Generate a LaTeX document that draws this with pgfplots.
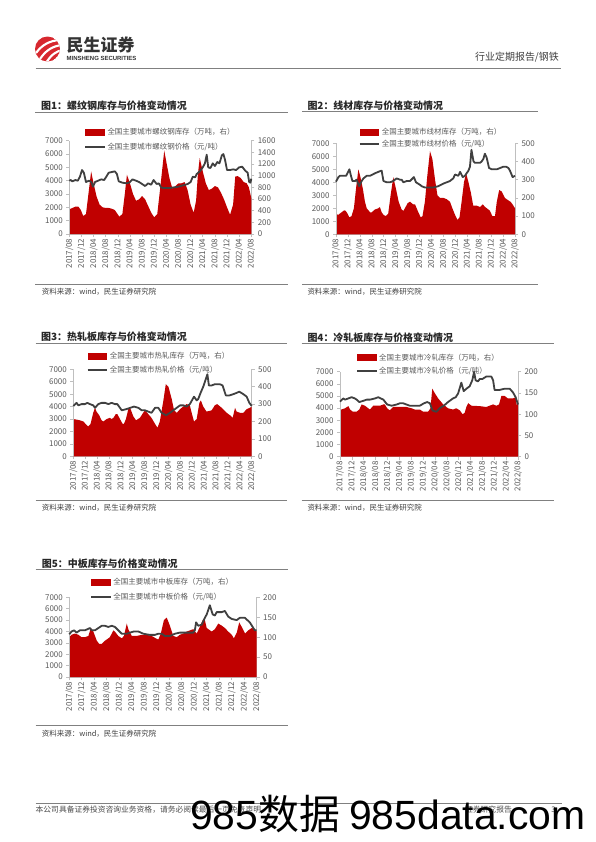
\documentclass[border=0pt]{standalone}
\usepackage{pgfplots}
\pgfplotsset{compat=1.18}
\usepackage{fontspec}
\setmainfont{Noto Sans CJK SC}
\newfontfamily\lat{Liberation Sans}
\definecolor{cred}{HTML}{C00000}
\definecolor{cline}{HTML}{404040}
\definecolor{caxis}{HTML}{BFBFBF}
\definecolor{ctext}{HTML}{595959}
\definecolor{ctitle}{HTML}{262626}
\definecolor{crule}{HTML}{808080}
\definecolor{clogo}{HTML}{D7282F}
\newcommand\fs[1]{\fontsize{#1}{#1}\selectfont}
\pgfplotsset{
  base/.style={
    scale only axis, clip=false,
    xmin=0, xmax=60, ymin=0,
    tick label style={font=\fs{8}, text=ctext},
    /pgf/number format/assume math mode=true,
    /pgf/number format/1000 sep={},
    axis line style={caxis, line width=0.6bp},
    tick style={caxis, line width=0.6bp},
    major tick length=3bp,
    tick align=outside,
  },
  areaaxis/.style={base,
    axis y line*=right, axis x line*=bottom,
    xtick={0,4,...,60},
    xticklabels={2017/08,2017/12,2018/04,2018/08,2018/12,2019/04,2019/08,2019/12,2020/04,2020/08,2020/12,2021/04,2021/08,2021/12,2022/04,2022/08},
    xticklabel style={rotate=90, anchor=east, inner sep=1.5bp},
  },
  lineaxis/.style={base,
    axis y line*=left, axis x line=none, xtick=\empty,
    ymax=7000, ytick={0,1000,...,7000},
    legend cell align=left,
    legend style={draw=none, fill=none, anchor=north west, font=\fs{7.5}, text=ctext,
      inner sep=0pt, nodes={inner xsep=1.8bp, inner ysep=0.8bp, text=ctext}},
  },
  areaimg/.style={fill=cred, draw=none, legend image code/.code={\fill[cred] (0bp,-3.5bp) rectangle (19.5bp,3.5bp);}},
  priceline/.style={cline, line width=1.8bp, line join=round, legend image code/.code={\draw[cline, line width=1.8bp] (0bp,0bp) -- (19.5bp,0bp);}},
}
\begin{document}
\begin{tikzpicture}[x=1bp,y=1bp]
\path[use as bounding box, fill=white] (0,0) rectangle (596,-842);
% ---------- header ----------
\begin{scope}
\clip (47.5,-49) circle (12.5);
\fill[clogo] (47.5,-49) circle (12.5);
\draw[white, line width=2.1bp] (36,-53) .. controls (42,-45) and (49,-41) .. (59,-40);
\draw[white, line width=2.1bp] (40,-59) .. controls (46,-50) and (53,-46) .. (62,-45);
\draw[white, line width=2.1bp] (46,-63) .. controls (51,-55) and (56,-51) .. (63,-50);
\end{scope}
\node[anchor=west, inner sep=0pt, font=\fs{17}\bfseries, text=black!80] at (66.5,-45) {民生证券};
\node[anchor=west, inner sep=0pt, font=\lat\fs{6}\bfseries, text=black!80] at (66.5,-58.3) {MINSHENG SECURITIES};
\node[anchor=east, inner sep=0pt, font=\fs{10}, text=black!75] at (559,-57.3) {行业定期报告/钢铁};
\draw[crule, line width=0.8bp] (35.5,-68.3) -- (561,-68.3);
% ---------- titles, rules, sources ----------
\tikzset{ttl/.style={anchor=west, inner sep=0pt, font=\fs{10}\bfseries, text=ctitle},
         src/.style={anchor=west, inner sep=0pt, font=\fs{7.5}, text=black!75}}
\node[ttl] at (41,-106) {图1：螺纹钢库存与价格变动情况};
\draw[crule, line width=0.8bp] (35,-112.7) -- (288,-112.7);
\draw[crule, line width=0.8bp] (35,-284.3) -- (288,-284.3);
\node[src] at (41.7,-291.7) {资料来源：wind，民生证券研究院};
\node[ttl] at (307.3,-105.3) {图2：线材库存与价格变动情况};
\draw[crule, line width=0.8bp] (302,-111.7) -- (538.3,-111.7);
\draw[crule, line width=0.8bp] (302,-284.3) -- (538.3,-284.3);
\node[src] at (307.3,-291.7) {资料来源：wind，民生证券研究院};
\node[ttl] at (41,-336.7) {图3：热轧板库存与价格变动情况};
\draw[crule, line width=0.8bp] (35.7,-343.3) -- (287.3,-343.3);
\draw[crule, line width=0.8bp] (35.7,-500) -- (287.3,-500);
\node[src] at (41.7,-507.3) {资料来源：wind，民生证券研究院};
\node[ttl] at (307.3,-337.3) {图4：冷轧板库存与价格变动情况};
\draw[crule, line width=0.8bp] (301.7,-343.3) -- (554,-343.3);
\draw[crule, line width=0.8bp] (301.7,-500) -- (554,-500);
\node[src] at (307.3,-507.7) {资料来源：wind，民生证券研究院};
\node[ttl] at (41.7,-563.3) {图5：中板库存与价格变动情况};
\draw[crule, line width=0.8bp] (35.7,-569.3) -- (288.3,-569.3);
\draw[crule, line width=0.8bp] (35.7,-725.7) -- (288.3,-725.7);
\node[src] at (41.7,-733.3) {资料来源：wind，民生证券研究院};
% ---------- footer ----------
\draw[crule, line width=0.8bp] (35.5,-803.6) -- (562,-803.6);
\node[anchor=west, inner sep=0pt, font=\fs{7.8}, text=black!70] at (35.5,-810) {本公司具备证券投资咨询业务资格，请务必阅读最后一页免责声明};
\node[anchor=east, inner sep=0pt, font=\fs{7.8}, text=black!70] at (512,-810) {证券研究报告};
\node[anchor=east, inner sep=0pt, font=\fs{7.8}, text=black!70] at (556,-810) {3};
% ================= Chart 1 =================
\begin{axis}[areaaxis, at={(69.3bp,-234bp)}, anchor=south west, width=182bp, height=93.3bp,
  ymax=1600, ytick={0,200,...,1600}]
\addplot[fill=cred, draw=none] coordinates {(0,423) (1,446) (2,469) (3,469) (3.8,411) (4.6,309) (5.5,343) (6.2,640) (7.2,1074) (8,869) (9,640) (10,503) (11,457) (12,446) (13,446) (14,434) (15,411) (16.5,297) (17.5,343) (18.3,686) (19,1017) (20,869) (21,686) (22,571) (23,594) (24,651) (25,594) (26,480) (27,366) (28,286) (29,343) (30,800) (31.3,1429) (32,1234) (33,960) (34,777) (35,823) (36,869) (37,869) (38,891) (39,754) (40,503) (41,366) (41.8,571) (42.4,1029) (43,1303) (44,1074) (45,869) (46,754) (47,777) (48,823) (49,800) (50,709) (51,594) (52,457) (53,331) (54,503) (54.7,983) (55.5,994) (56.5,960) (57.5,891) (58.5,869) (59.2,800) (60,617)} \closedcycle;
\end{axis}
\begin{axis}[lineaxis, at={(69.3bp,-234bp)}, anchor=south west, width=182bp, height=93.3bp,
  legend style={at={(0.0819,1.1415)}, row sep=4.9bp}]
\addlegendimage{areaimg}
\addlegendentry{全国主要城市螺纹钢库存（万吨，右）}
\addplot[priceline] coordinates {(0,4000) (0.5,4050) (1,3950) (2,4050) (2.8,4000) (3.5,4300) (4.2,4800) (4.8,4600) (5.5,3900) (6.5,4000) (7.3,3900) (7.8,3550) (8.5,3900) (9.5,4000) (10.5,4100) (11.5,4050) (12.2,4300) (13,4600) (14,4650) (15,4700) (15.7,4500) (16.3,3950) (17.5,3850) (19,3800) (20,3900) (20.8,4100) (22,4000) (23,3900) (24,3750) (25,3600) (26,3800) (27,3700) (27.8,4050) (28.8,3750) (29.5,3800) (30.3,3500) (31,3450) (33,3450) (34.5,3500) (36,3550) (37.5,3650) (39,3750) (40,3900) (40.7,4300) (41.5,4250) (42,4500) (43,4700) (44,5000) (44.7,5300) (45.3,5950) (45.8,5000) (46.5,4950) (47.3,5300) (48,5100) (48.8,5400) (49.5,5300) (50.3,5900) (50.8,6000) (51.3,5600) (52,4800) (53,4800) (54,4850) (55,4800) (56,5000) (57,5050) (58,4750) (58.8,4600) (59.3,3900) (59.7,3850) (60,4150)};
\addlegendentry{全国主要城市螺纹钢价格（元/吨）}
\end{axis}
% ================= Chart 2 =================
\begin{axis}[areaaxis, at={(336bp,-234.3bp)}, anchor=south west, width=179bp, height=91bp,
  ymax=500, ytick={0,100,...,500}]
\addplot[fill=cred, draw=none] coordinates {(0,111) (0.8,107) (1.3,114) (2.5,129) (3,132) (3.6,121) (4.5,93) (5.2,100) (6,143) (6.7,250) (7.5,357) (8.1,321) (9,250) (9.7,179) (10.3,143) (11.4,121) (12,121) (13,136) (14.2,143) (14.7,150) (15.3,121) (15.9,107) (16.7,100) (17.5,114) (18.3,214) (19.2,314) (20.1,250) (21,179) (22,136) (22.6,129) (23.1,143) (24,171) (24.8,179) (25.9,164) (26.5,164) (27.6,121) (28.4,93) (29,100) (29.8,179) (30.6,321) (31.5,457) (32.3,414) (33.2,300) (34,214) (34.9,200) (36,200) (37.1,193) (38.2,179) (39,143) (39.9,107) (40.7,79) (41.4,93) (42.1,179) (42.9,286) (43.6,336) (44.4,286) (45.2,229) (46,157) (47.2,157) (48.3,150) (49.2,164) (50,150) (51.1,136) (51.6,129) (52.4,100) (53.3,100) (53.9,179) (54.7,243) (55.5,236) (56.6,200) (57.8,186) (58.5,179) (59.2,164) (60,143)} \closedcycle;
\end{axis}
\begin{axis}[lineaxis, at={(336bp,-234.3bp)}, anchor=south west, width=179bp, height=91bp,
  legend style={at={(0.1257,1.177)}, row sep=2.5bp}]
\addlegendimage{areaimg}
\addlegendentry{全国主要城市线材库存（万吨，右）}
\addplot[priceline] coordinates {(0,4050) (0.8,4400) (1.3,4500) (2.5,4500) (3.4,4500) (4.5,5000) (4.9,4600) (5.5,4100) (6.4,4100) (6.9,4200) (7.8,3700) (8.6,4100) (9.2,4300) (10.3,4500) (11.4,4500) (13.1,4700) (14.7,4850) (15.3,4900) (15.9,4100) (17,4000) (18.1,4000) (19.2,4100) (20.3,4300) (21.5,4200) (22,4200) (22.6,4000) (23.7,4100) (24.8,4100) (26.1,4400) (26.8,4000) (28.2,3800) (28.7,3700) (29.8,3600) (31.5,3600) (32.6,3600) (34.3,3700) (36,3900) (38.2,4100) (39.3,4300) (39.9,4600) (41,4500) (41.6,4800) (42.5,4400) (43.2,4500) (44.4,4900) (44.9,5200) (45.4,6500) (46.1,5600) (46.6,5500) (48.3,5500) (48.8,5600) (49.4,5800) (49.9,6200) (50.5,5900) (51.3,5100) (52.2,5000) (53.9,5000) (55,5100) (56.1,5200) (57,5200) (57.8,5100) (58.3,4900) (59.2,4400) (60,4500)};
\addlegendentry{全国主要城市线材价格（元/吨）}
\end{axis}
% ================= Chart 3 =================
\begin{axis}[areaaxis, at={(73.3bp,-456.3bp)}, anchor=south west, width=178.4bp, height=87bp,
  ymax=500, ytick={0,100,...,500}]
\addplot[fill=cred, draw=none] coordinates {(0,214) (1.1,211) (2.2,207) (3.4,200) (4.5,179) (5,171) (5.8,186) (6.7,250) (7.3,279) (7.8,257) (8.7,236) (9.5,207) (10.1,200) (11.2,214) (12.3,221) (12.9,214) (13.5,221) (14.3,243) (14.8,243) (15.7,214) (16.6,186) (17,186) (17.7,214) (18.5,271) (19.1,279) (20.2,229) (21.1,207) (22.4,221) (23.5,250) (24.1,264) (25.2,243) (26.3,221) (27.5,186) (28.3,164) (29.1,200) (30.3,321) (31.1,414) (32,400) (33.1,329) (33.9,264) (34.8,250) (35.9,271) (37,286) (38.1,300) (39.2,293) (39.8,250) (40.6,200) (41.5,214) (42.4,307) (42.9,321) (43.7,286) (44.8,257) (46.5,264) (47.6,293) (48.4,300) (49.9,279) (51.6,250) (52.7,236) (53.6,221) (54.4,279) (54.9,257) (56.1,250) (57.2,250) (58.3,271) (59.4,279) (60,286)} \closedcycle;
\end{axis}
\begin{axis}[lineaxis, at={(73.3bp,-456.3bp)}, anchor=south west, width=178.4bp, height=87bp,
  legend style={at={(0.074,1.2046)}, row sep=3.9bp}]
\addlegendimage{areaimg}
\addlegendentry{全国主要城市热轧库存（万吨，右）}
\addplot[priceline] coordinates {(0,4050) (1.1,4300) (1.7,4100) (2.8,4200) (3.9,4200) (4.7,4300) (5.6,4200) (6.7,4100) (7.3,3900) (8.4,4200) (9.5,4300) (10.7,4300) (11.8,4200) (12.9,4300) (14,4200) (14.8,4200) (15.7,3900) (16.3,3700) (17.9,3800) (19.1,3900) (20.4,4000) (21.9,3900) (23,3700) (24.1,3700) (25.2,3600) (26.3,3500) (27.5,3900) (28.6,3900) (29.7,3500) (31.2,3300) (32.5,3500) (34.2,3800) (35.9,4100) (37,4100) (38.1,4000) (39.2,4200) (40.6,4800) (41.5,4500) (42,4600) (42.8,5100) (43.7,5600) (45.1,6600) (45.6,5700) (46.5,5700) (47.6,5800) (49.3,5800) (50.2,5700) (51.3,4900) (52.5,4900) (53.8,5000) (54.9,5100) (55.8,5200) (57.2,5000) (58.3,4800) (59.2,4300) (60,4050)};
\addlegendentry{全国主要城市热轧价格（元/吨）}
\end{axis}
% ================= Chart 4 =================
\begin{axis}[areaaxis, at={(340bp,-456.7bp)}, anchor=south west, width=178bp, height=85bp,
  ymax=200, ytick={0,50,...,200}]
\addplot[fill=cred, draw=none] coordinates {(0,110) (1.7,114) (2.8,119) (3.4,111) (4.3,106) (5.6,106) (6.5,111) (7.3,123) (8.4,120) (9.5,114) (10.1,111) (11.2,120) (13.5,120) (14.6,123) (15.1,123) (15.9,114) (16.8,109) (17.9,117) (20.2,117) (22.4,117) (24.1,114) (25.2,111) (26.9,111) (28,106) (29.7,106) (30.5,114) (31.1,160) (32,149) (33.1,137) (34.8,123) (36.4,114) (38.1,111) (39.2,114) (40.4,109) (41.3,100) (42,103) (42.6,117) (43.2,126) (44.3,120) (47.1,119) (49.3,117) (50.4,120) (51.6,123) (52.7,120) (53.6,123) (54.4,143) (55.5,143) (56.6,137) (58.3,137) (59.2,140) (59.6,120) (60,134)} \closedcycle;
\end{axis}
\begin{axis}[lineaxis, at={(340bp,-456.7bp)}, anchor=south west, width=178bp, height=85bp,
  legend style={at={(0.0893,1.2224)}, row sep=3.6bp}]
\addlegendimage{areaimg}
\addlegendentry{全国主要城市冷轧库存（万吨，右）}
\addplot[priceline] coordinates {(0,4530) (1.1,4800) (1.7,4700) (2.8,4800) (3.9,4900) (5,4800) (5.6,4700) (6.5,4500) (7.8,4600) (9,4700) (10.1,4700) (11.8,4800) (12.9,4900) (14.6,4700) (15.9,4300) (17.4,4200) (19.1,4300) (20.2,4400) (21.3,4400) (22.4,4300) (23.5,4200) (25.2,4200) (26.9,4200) (28.3,4400) (29.4,4500) (30.3,4400) (31.2,3800) (32.5,3700) (33.6,4000) (35,4200) (36.4,4500) (38.1,4800) (39,4900) (39.8,5200) (40.9,6100) (41.7,5400) (42.6,5600) (43.7,5800) (44.6,6300) (45.2,7000) (45.7,6300) (46.5,6200) (47.1,6400) (48,6400) (49.3,6600) (51,6600) (51.6,6300) (52.1,5500) (53.8,5500) (55.5,5600) (57.2,5600) (58.3,5300) (59.2,4900) (60,4300)};
\addlegendentry{全国主要城市冷轧价格（元/吨）}
\end{axis}
% ================= Chart 5 =================
\begin{axis}[areaaxis, at={(69.3bp,-677bp)}, anchor=south west, width=187.4bp, height=79.7bp,
  ymax=200, ytick={0,50,...,200}]
\addplot[fill=cred, draw=none] coordinates {(0,100) (0.7,106) (1.8,109) (2.9,106) (3.9,100) (5,100) (6.1,103) (6.9,123) (7.7,114) (8.8,91) (9.6,83) (10.4,83) (11.4,91) (12.5,97) (13,100) (14.1,117) (14.6,114) (15.7,103) (16.8,97) (17.5,103) (18.4,134) (18.9,120) (20,103) (21.6,103) (23.2,106) (24.8,106) (26.4,103) (27.7,97) (28.5,94) (29.3,109) (30.3,143) (31.2,149) (32.2,129) (33.3,103) (34.4,100) (35.4,106) (36.5,109) (37.6,114) (38.6,117) (39.7,120) (40.8,109) (41.8,126) (42.9,146) (43.4,143) (44,123) (45.6,114) (46.6,120) (47.7,134) (48.8,129) (49.8,123) (50.9,114) (52,106) (52.7,97) (53.6,111) (54.4,137) (55.2,126) (56.3,109) (57.3,117) (58.4,123) (59.4,120) (60,114)} \closedcycle;
\end{axis}
\begin{axis}[lineaxis, at={(69.3bp,-677bp)}, anchor=south west, width=187.4bp, height=79.7bp,
  legend style={at={(0.1115,1.2484)}, row sep=4.9bp}]
\addlegendimage{areaimg}
\addlegendentry{全国主要城市中板库存（万吨，右）}
\addplot[priceline] coordinates {(0,3750) (0.7,4000) (1.6,4100) (2.3,3900) (3.4,4100) (5,4100) (6.6,4300) (7.2,4100) (8.2,4100) (9.3,4300) (10.4,4500) (11.4,4500) (12.5,4400) (13.6,4500) (14.6,4400) (15.7,4100) (16.8,3800) (18.4,3800) (19.4,3900) (20.7,4000) (22.1,4000) (23.7,3800) (25.8,3700) (27.4,3700) (28.5,3800) (29.6,3800) (30.6,3600) (32.2,3600) (33.8,3800) (35.4,3900) (37.6,3900) (39.7,3900) (40.2,4100) (40.6,4800) (41.3,4500) (42.4,4600) (43.4,5200) (44,5500) (45,6300) (45.9,5500) (46.6,5400) (47.2,5700) (48.8,5700) (49.8,5800) (50.9,5300) (52,5100) (53.6,5000) (54.6,5200) (56.2,5200) (57.8,4800) (58.7,4400) (59.4,4100) (60,4100)};
\addlegendentry{全国主要城市中板价格（元/吨）}
\end{axis}
% ---------- watermark ----------
\node[anchor=west, inner sep=0pt, font=\fs{41}, text=black] at (190,-814) {{\lat 985}数据 {\lat 985data.com}};
\end{tikzpicture}
\end{document}
